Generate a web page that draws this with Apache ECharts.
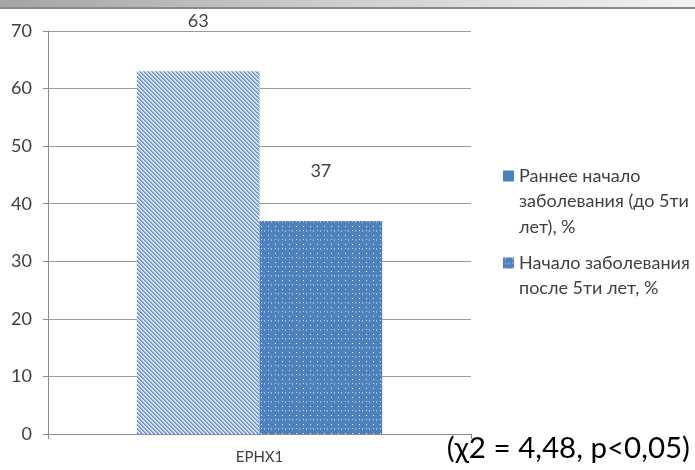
<!DOCTYPE html>
<html>
<head>
<meta charset="utf-8">
<script src="https://cdn.jsdelivr.net/npm/echarts@6/dist/echarts.min.js"></script>
<style>
  html, body { margin: 0; padding: 0; background: #fff; }
  #chart { width: 695px; height: 470px; }
</style>
</head>
<body>
<div id="chart"></div>
<script>
// Chart data
const categories = ['EPHX1'];
const seriesNames = [
  'Раннее начало\nзаболевания (до 5ти\nлет), %',
  'Начало заболевания\nпосле 5ти лет, %'
];
const earlyOnset = [63];
const lateOnset = [37];
const yTicks = { min: 0, max: 70, step: 10 };
const note = '(χ2 = 4,48, p<0,05)';

// Diagonal hatch fill ("\" direction)
function hatchPattern() {
  const c = document.createElement('canvas');
  c.width = 4; c.height = 4;
  const g = c.getContext('2d');
  g.fillStyle = '#f2f6fc';
  g.fillRect(0, 0, 4, 4);
  for (let i = 0; i < 4; i++) {
    g.fillStyle = '#5a88cc';
    g.fillRect(i, i, 1, 1);
    g.fillStyle = '#8fb0e0';
    g.fillRect((i + 1) % 4, i, 1, 1);
    g.fillStyle = '#c4d5ef';
    g.fillRect((i + 2) % 4, i, 1, 1);
  }
  return c;
}

// Dotted fill on solid blue
function dotPattern() {
  const c = document.createElement('canvas');
  c.width = 7; c.height = 9;
  const g = c.getContext('2d');
  g.fillStyle = '#4f81bd';
  g.fillRect(0, 0, 7, 9);
  g.fillStyle = '#e8f0fb';
  g.fillRect(2, 1, 1, 1);
  g.fillStyle = '#9fbbe2';
  g.fillRect(5, 5, 1, 2);
  g.fillStyle = '#c7d8f0';
  g.fillRect(2, 5, 1, 1);
  return c;
}

const chart = echarts.init(document.getElementById('chart'), null, { renderer: 'canvas' });
const textColor = '#404040';
const font = 'Lato, "Open Sans", sans-serif';
const legendLine = 25.5;

// One legend block per series; blank lines above the name keep the
// marker level with the first text line
function legendBlock(name, markerY, itemStyle) {
  const lines = name.split('\n').length;
  const total = (2 * lines - 1) * legendLine;
  const entry = { name: name };
  if (itemStyle) entry.itemStyle = itemStyle;
  return {
    orient: 'vertical',
    left: 503,
    top: markerY - total / 2,
    padding: 0,
    itemWidth: 11,
    itemHeight: 11,
    icon: 'rect',
    formatter: (n) => ' \n'.repeat(lines - 1) + n,
    textStyle: {
      color: textColor, fontSize: 18, fontFamily: font,
      lineHeight: legendLine
    },
    data: [entry]
  };
}

chart.setOption({
  animation: false,
  backgroundColor: '#ffffff',
  graphic: [
    {
      type: 'rect',
      left: 0, top: 0,
      shape: { width: 695, height: 7 },
      style: {
        fill: {
          type: 'linear', x: 0, y: 0, x2: 1, y2: 0,
          colorStops: [
            { offset: 0, color: '#a4a4a4' },
            { offset: 0.5, color: '#cfcfcf' },
            { offset: 1, color: '#f2f2f2' }
          ]
        }
      },
      silent: true
    },
    {
      type: 'rect',
      left: 0, top: 7,
      shape: { width: 695, height: 2 },
      style: { fill: '#8a8a8a' },
      silent: true
    },
    {
      type: 'text',
      right: 5, top: 433,
      style: {
        text: note,
        fill: '#000000',
        font: '29.5px "Liberation Sans Narrow", Lato, sans-serif'
      },
      silent: true
    }
  ],
  grid: { left: 48, right: 224, top: 31, bottom: 36 },
  legend: [
    legendBlock(seriesNames[0], 176, { color: '#4f81bd' }),
    legendBlock(seriesNames[1], 263, null)
  ],
  xAxis: {
    type: 'category',
    data: categories,
    axisLine: { lineStyle: { color: '#8c8c8c', width: 1 } },
    axisTick: { show: true, length: 5, lineStyle: { color: '#8c8c8c' } },
    axisLabel: { color: textColor, fontSize: 15, fontFamily: font, margin: 16 }
  },
  yAxis: {
    type: 'value',
    min: yTicks.min,
    max: yTicks.max,
    interval: yTicks.step,
    axisLine: { show: true, lineStyle: { color: '#8c8c8c' } },
    axisTick: { show: true, length: 5, lineStyle: { color: '#8c8c8c' } },
    axisLabel: { color: textColor, fontSize: 18, fontFamily: font, margin: 16 },
    splitLine: { lineStyle: { color: '#9a9a9a', width: 1 } }
  },
  series: [
    {
      name: seriesNames[0],
      type: 'bar',
      data: earlyOnset,
      barGap: '0%',
      barCategoryGap: '42%',
      itemStyle: { color: { image: hatchPattern(), repeat: 'repeat' } },
      label: {
        show: true, position: 'top', distance: 41,
        color: textColor, fontSize: 18, fontFamily: font
      }
    },
    {
      name: seriesNames[1],
      type: 'bar',
      data: lateOnset,
      barGap: '0%',
      barCategoryGap: '42%',
      itemStyle: { color: { image: dotPattern(), repeat: 'repeat' } },
      label: {
        show: true, position: 'top', distance: 41,
        color: textColor, fontSize: 18, fontFamily: font
      }
    }
  ]
});
</script>
</body>
</html>
